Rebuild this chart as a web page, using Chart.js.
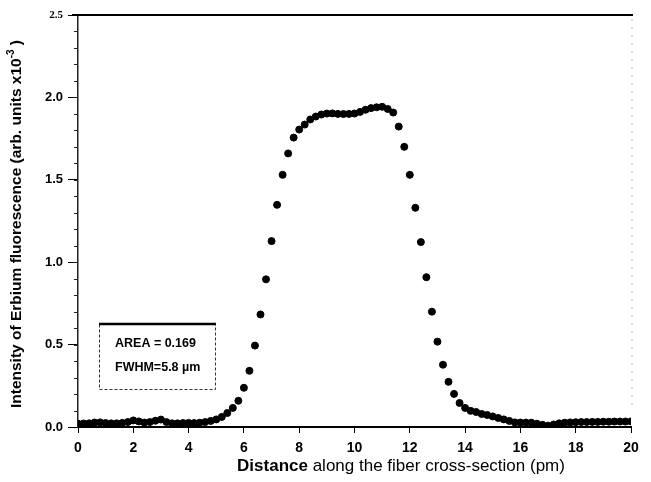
<!DOCTYPE html>
<html>
<head>
<meta charset="utf-8">
<script src="https://cdn.jsdelivr.net/npm/chart.js@4.4.1/dist/chart.umd.min.js"></script>
<style>
  html, body { margin: 0; padding: 0; background: #fff; }
  #wrap { width: 651px; height: 482px; position: relative; }
</style>
</head>
<body>
<div id="wrap"><canvas id="erbiumChart"></canvas></div>
<script>
// Distância ao longo da seção da fibra (eixo x)
const distance = [
  0.0, 0.2, 0.4, 0.6, 0.8, 1.0, 1.2, 1.4, 1.6, 1.8,
  2.0, 2.2, 2.4, 2.6, 2.8, 3.0, 3.2, 3.4, 3.6, 3.8,
  4.0, 4.2, 4.4, 4.6, 4.8, 5.0, 5.2, 5.4, 5.6, 5.8,
  6.0, 6.2, 6.4, 6.6, 6.8, 7.0, 7.2, 7.4, 7.6, 7.8,
  8.0, 8.2, 8.4, 8.6, 8.8, 9.0, 9.2, 9.4, 9.6, 9.8,
  10.0, 10.2, 10.4, 10.6, 10.8, 11.0, 11.2, 11.4, 11.6, 11.8,
  12.0, 12.2, 12.4, 12.6, 12.8, 13.0, 13.2, 13.4, 13.6, 13.8,
  14.0, 14.2, 14.4, 14.6, 14.8, 15.0, 15.2, 15.4, 15.6, 15.8,
  16.0, 16.2, 16.4, 16.6, 16.8, 17.0, 17.2, 17.4, 17.6, 17.8,
  18.0, 18.2, 18.4, 18.6, 18.8, 19.0, 19.2, 19.4, 19.6, 19.8,
  20.0
];

// Intensidade de fluorescência (arb. units x10^-3)
const intensity = [
  0.020, 0.021, 0.022, 0.027, 0.028, 0.024, 0.022, 0.022, 0.025, 0.030,
  0.040, 0.034, 0.027, 0.030, 0.038, 0.045, 0.030, 0.022, 0.022, 0.024,
  0.025, 0.024, 0.026, 0.030, 0.037, 0.046, 0.061, 0.085, 0.116, 0.159,
  0.238, 0.341, 0.494, 0.683, 0.896, 1.128, 1.348, 1.530, 1.660, 1.756,
  1.805, 1.835, 1.866, 1.884, 1.896, 1.902, 1.903, 1.900, 1.899, 1.900,
  1.902, 1.912, 1.925, 1.935, 1.940, 1.943, 1.930, 1.908, 1.823, 1.700,
  1.530, 1.330, 1.122, 0.909, 0.700, 0.518, 0.378, 0.274, 0.201, 0.146,
  0.116, 0.098, 0.091, 0.079, 0.073, 0.064, 0.055, 0.046, 0.037, 0.028,
  0.027, 0.027, 0.026, 0.020, 0.013, 0.008, 0.015, 0.022, 0.026, 0.028,
  0.029, 0.030, 0.030, 0.031, 0.031, 0.032, 0.032, 0.033, 0.033, 0.033,
  0.034
];

const xTicks = [0, 2, 4, 6, 8, 10, 12, 14, 16, 18, 20];
const yTicks = [0.0, 0.5, 1.0, 1.5, 2.0, 2.5];
const boxLines = ['AREA = 0.169', 'FWHM=5.8 \u00b5m'];

const points = distance.map((d, i) => ({ x: d, y: intensity[i] }));

// Desenha molduras, títulos e a caixa de anotação
const decorPlugin = {
  id: 'decor',
  afterDraw(chart) {
    const ctx = chart.ctx;
    const a = chart.chartArea;
    const ys = chart.scales.y;
    ctx.save();

    // linha superior grossa
    ctx.strokeStyle = '#000';
    ctx.lineWidth = 2;
    ctx.beginPath();
    ctx.moveTo(a.left - 6, a.top);
    ctx.lineTo(a.right + 2, a.top);
    ctx.stroke();

    // eixo direito pontilhado e fraco
    ctx.strokeStyle = '#bbb';
    ctx.lineWidth = 1;
    ctx.setLineDash([2, 6]);
    ctx.beginPath();
    ctx.moveTo(a.right + 1, a.top + 4);
    ctx.lineTo(a.right + 1, a.bottom - 20);
    ctx.stroke();
    ctx.setLineDash([]);

    // marcas menores no eixo y
    ctx.strokeStyle = '#222';
    ctx.lineWidth = 1;
    for (let v = 0.1; v < 2.5; v += 0.1) {
      const py = Math.round(ys.getPixelForValue(v)) + 0.5;
      ctx.beginPath();
      ctx.moveTo(a.left - 4, py);
      ctx.lineTo(a.left, py);
      ctx.stroke();
    }

    // título do eixo y
    ctx.fillStyle = '#000';
    ctx.textBaseline = 'middle';
    ctx.save();
    ctx.translate(17, 224);
    ctx.rotate(-Math.PI / 2);
    const big = 'bold 15.5px "Liberation Sans", Arial, sans-serif';
    const small = 'bold 10px "Liberation Sans", Arial, sans-serif';
    const p1 = 'Intensity of Erbium fluorescence (arb. units x10';
    const p2 = '-3';
    const p3 = ' )';
    ctx.font = big;
    const w1 = ctx.measureText(p1).width;
    const w3 = ctx.measureText(p3).width;
    ctx.font = small;
    const w2 = ctx.measureText(p2).width;
    let sx = -(w1 + w2 + w3) / 2;
    ctx.textAlign = 'left';
    ctx.font = big;
    ctx.fillText(p1, sx, 0);
    ctx.font = small;
    ctx.fillText(p2, sx + w1, -6);
    ctx.font = big;
    ctx.fillText(p3, sx + w1 + w2, 0);
    ctx.restore();

    // título do eixo x
    const xb = 'bold 17px "Liberation Sans", Arial, sans-serif';
    const xn = '17px "Liberation Sans", Arial, sans-serif';
    const t1 = 'Distance';
    const t2 = ' along the fiber cross-section (pm)';
    ctx.font = xb;
    const tw1 = ctx.measureText(t1).width;
    ctx.font = xn;
    const tw2 = ctx.measureText(t2).width;
    let tx = 401 - (tw1 + tw2) / 2;
    ctx.textAlign = 'left';
    ctx.font = xb;
    ctx.fillText(t1, tx, 466);
    ctx.font = xn;
    ctx.fillText(t2, tx + tw1, 466);

    // caixa de anotação
    const bx = 99, by = 323, bw = 116, bh = 66;
    ctx.strokeStyle = '#333';
    ctx.lineWidth = 1;
    ctx.setLineDash([3, 2]);
    ctx.strokeRect(bx + 0.5, by + 0.5, bw, bh);
    ctx.setLineDash([]);
    ctx.strokeStyle = '#000';
    ctx.lineWidth = 2.5;
    ctx.beginPath();
    ctx.moveTo(bx, by + 1);
    ctx.lineTo(bx + bw + 1, by + 1);
    ctx.stroke();
    ctx.font = 'bold 12.5px "Liberation Sans", Arial, sans-serif';
    ctx.fillText(boxLines[0], 115, 344);
    ctx.fillText(boxLines[1], 115, 368);

    ctx.restore();
  }
};

const ctx = document.getElementById('erbiumChart').getContext('2d');
const chart = new Chart(ctx, {
  type: 'scatter',
  data: {
    datasets: [{
      data: points,
      backgroundColor: '#000',
      borderColor: '#000',
      pointRadius: 3.5,
      pointHoverRadius: 3.5,
      showLine: false
    }]
  },
  options: {
    responsive: true,
    maintainAspectRatio: false,
    animation: false,
    layout: { padding: { left: 0, right: 20, top: 15, bottom: 0 } },
    plugins: {
      legend: { display: false },
      tooltip: { enabled: false }
    },
    scales: {
      x: {
        type: 'linear',
        min: 0,
        max: 20,
        afterFit: (s) => { s.height = 55; },
        afterBuildTicks: (s) => { s.ticks = xTicks.map(v => ({ value: v })); },
        grid: { drawOnChartArea: false, drawTicks: true, tickLength: 6, color: '#000' },
        border: { display: true, color: '#000', width: 2 },
        ticks: {
          color: '#000',
          padding: 7,
          font: { family: '"Liberation Sans", Arial, sans-serif', size: 14, weight: 'bold' },
          callback: (v) => String(v)
        }
      },
      y: {
        type: 'linear',
        min: 0,
        max: 2.5,
        afterFit: (s) => { s.width = 78; },
        afterBuildTicks: (s) => { s.ticks = yTicks.map(v => ({ value: v })); },
        grid: { drawOnChartArea: false, drawTicks: true, tickLength: 10, color: '#000' },
        border: { display: true, color: '#222', width: 1.5, dash: [2, 2] },
        ticks: {
          color: '#000',
          padding: 5,
          font: (c) => ({
            family: (c.tick && c.tick.value === 2.5) ? '"Liberation Serif", serif' : '"Liberation Sans", Arial, sans-serif',
            size: (c.tick && c.tick.value === 2.5) ? 11 : 13,
            weight: 'bold'
          }),
          callback: (v) => Number(v).toFixed(1)
        }
      }
    }
  },
  plugins: [decorPlugin]
});
</script>
</body>
</html>
